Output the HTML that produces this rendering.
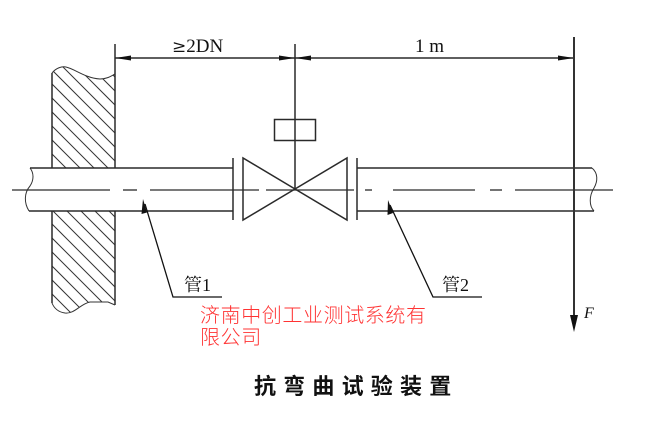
<!DOCTYPE html>
<html><head><meta charset="utf-8">
<style>
html,body{margin:0;padding:0;background:#fff;}
svg{display:block;}
</style></head>
<body>
<svg width="662" height="434" viewBox="0 0 662 434" xmlns="http://www.w3.org/2000/svg">
<defs>
<clipPath id="wallTop"><path d="M52,73 C56,68 62,66 66,67 C75,69 85,78 100,79 C107,79 111,76 115,74 L115,168 L52,168 Z"/></clipPath>
<clipPath id="wallBot"><path d="M52,211 L115,211 L115,305 L108,302 L90,302 C80,304 75,314 65,313 C58,312 54,308 52,303 Z"/></clipPath>
<g id="hatch" stroke="#333" stroke-width="1">
<line x1="-280" y1="60" x2="0" y2="340"/>
<line x1="-266" y1="60" x2="14" y2="340"/>
<line x1="-252" y1="60" x2="28" y2="340"/>
<line x1="-238" y1="60" x2="42" y2="340"/>
<line x1="-224" y1="60" x2="56" y2="340"/>
<line x1="-210" y1="60" x2="70" y2="340"/>
<line x1="-196" y1="60" x2="84" y2="340"/>
<line x1="-182" y1="60" x2="98" y2="340"/>
<line x1="-168" y1="60" x2="112" y2="340"/>
<line x1="-154" y1="60" x2="126" y2="340"/>
<line x1="-140" y1="60" x2="140" y2="340"/>
<line x1="-126" y1="60" x2="154" y2="340"/>
<line x1="-112" y1="60" x2="168" y2="340"/>
<line x1="-98" y1="60" x2="182" y2="340"/>
<line x1="-84" y1="60" x2="196" y2="340"/>
<line x1="-70" y1="60" x2="210" y2="340"/>
<line x1="-56" y1="60" x2="224" y2="340"/>
<line x1="-42" y1="60" x2="238" y2="340"/>
<line x1="-28" y1="60" x2="252" y2="340"/>
<line x1="-14" y1="60" x2="266" y2="340"/>
<line x1="0" y1="60" x2="280" y2="340"/>
<line x1="14" y1="60" x2="294" y2="340"/>
<line x1="28" y1="60" x2="308" y2="340"/>
<line x1="42" y1="60" x2="322" y2="340"/>
<line x1="56" y1="60" x2="336" y2="340"/>
<line x1="70" y1="60" x2="350" y2="340"/>
<line x1="84" y1="60" x2="364" y2="340"/>
<line x1="98" y1="60" x2="378" y2="340"/>
<line x1="112" y1="60" x2="392" y2="340"/>
</g>
</defs>

<!-- wall hatching -->
<g clip-path="url(#wallTop)"><use href="#hatch"/></g>
<g clip-path="url(#wallBot)"><use href="#hatch"/></g>

<g fill="none" stroke="#2a2a2a" stroke-width="1.5">
  <line x1="52" y1="73" x2="52" y2="168"/>
  <line x1="52" y1="211" x2="52" y2="303"/>
  <line x1="115" y1="44" x2="115" y2="168"/>
  <line x1="115" y1="211" x2="115" y2="305"/>
</g>
<g fill="none" stroke="#333" stroke-width="1">
  <path d="M52,73 C56,68 62,66 66,67 C75,69 85,78 100,79 C107,79 111,76 115,74"/>
  <path d="M52,303 C54,308 58,312 65,313 C75,314 80,304 90,302 L108,302 L115,305"/>
  <path d="M30,168 C34,173 34,180 30,186 C24,193 24,203 29,211"/>
  <path d="M592,168 C598,173 598,181 594,188 C589,196 589,206 594,211"/>
</g>

<g fill="none" stroke="#2a2a2a" stroke-width="1.5">
  <line x1="30" y1="168" x2="233" y2="168"/>
  <line x1="29" y1="211" x2="233" y2="211"/>
  <line x1="357" y1="168" x2="592" y2="168"/>
  <line x1="357" y1="211" x2="594" y2="211"/>
  <line x1="233" y1="158" x2="233" y2="220"/>
  <line x1="357" y1="158" x2="357" y2="220"/>
  <polygon points="243,158 243,220 295,189"/>
  <polygon points="347,158 347,220 295,189"/>
  <rect x="274.5" y="119.5" width="41" height="21"/>
  <line x1="295" y1="44" x2="295" y2="189"/>
  <line x1="115" y1="58" x2="574" y2="58"/>
</g>

<!-- center line -->
<g stroke="#2a2a2a" stroke-width="1.3">
  <line x1="12" y1="190" x2="110" y2="190"/>
  <line x1="123" y1="190" x2="137" y2="190"/>
  <line x1="150" y1="190" x2="259" y2="190"/>
  <line x1="266" y1="190" x2="354" y2="190"/>
  <line x1="365" y1="190" x2="372" y2="190"/>
  <line x1="393" y1="190" x2="475" y2="190"/>
  <line x1="490" y1="190" x2="502" y2="190"/>
  <line x1="515" y1="190" x2="613" y2="190"/>
</g>

<g fill="#111">
  <polygon points="115,58 131,55.5 131,60.5"/>
  <polygon points="295,58 279,55.5 279,60.5"/>
  <polygon points="295,58 311,55.5 311,60.5"/>
  <polygon points="574,58 558,55.5 558,60.5"/>
</g>

<line x1="574" y1="37" x2="574" y2="318" stroke="#333" stroke-width="2"/>
<polygon points="570,315 578,315 574,332" fill="#111"/>

<g fill="none" stroke="#111" stroke-width="1.3">
  <polyline points="145,204 173,297 222,297"/>
  <polyline points="390,205 433,297 482,297"/>
</g>
<g fill="#111">
  <polygon points="143,199 141.5,214 147,212.5"/>
  <polygon points="388,200 387.5,215 393,213"/>
</g>

<g font-family="'Liberation Serif','Noto Serif CJK SC',serif" fill="#111">
  <text x="172" y="52" font-size="19"><tspan font-family="'DejaVu Serif',serif" font-size="17">≥</tspan>2DN</text>
  <text x="415" y="52" font-size="19">1 m</text>
  <text x="184" y="291" font-size="18">管1</text>
  <text x="442" y="291" font-size="18">管2</text>
  <text x="584" y="318" font-size="16" font-style="italic">F</text>
</g>

<g font-family="'Liberation Sans','Noto Sans CJK SC',sans-serif" fill="#f33" font-size="20" font-weight="300" letter-spacing="0.6">
  <text x="200" y="322">济南中创工业测试系统有</text>
  <text x="200" y="344">限公司</text>
</g>

<text x="254" y="394" font-family="'Liberation Sans','Noto Sans CJK SC',sans-serif" font-size="22" font-weight="bold" letter-spacing="7.2" fill="#111">抗弯曲试验装置</text>
</svg>
</body></html>
